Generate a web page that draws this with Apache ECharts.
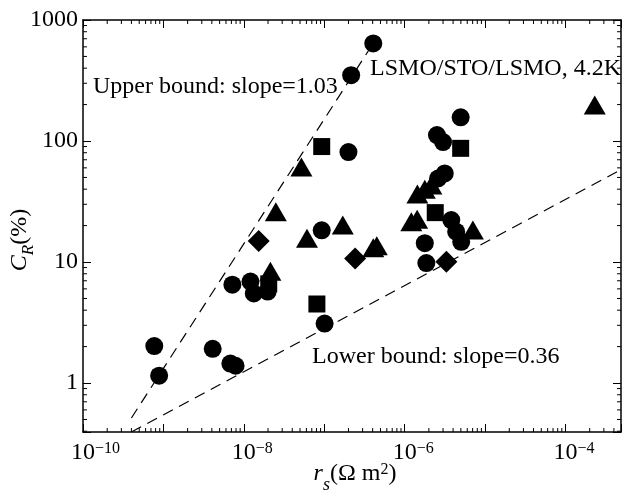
<!DOCTYPE html>
<html>
<head>
<meta charset="utf-8">
<script src="https://cdn.jsdelivr.net/npm/echarts@6/dist/echarts.min.js"></script>
<style>
  html, body { margin: 0; padding: 0; background: #fff; }
  #main { width: 624px; height: 501px; }
</style>
</head>
<body>
<div id="main"></div>
<script>
// data: [r_s (Ohm m2), C_R (%)]
var circles = [
    [7.7e-10, 2.02], [8.85e-10, 1.15], [4.1e-9, 1.92], [6.8e-9, 1.45], [7.9e-9, 1.39],
    [7.2e-9, 6.5], [1.21e-8, 6.9], [1.33e-8, 5.5], [1.98e-8, 5.7],
    [9.3e-8, 18.3], [2.0e-7, 81], [2.16e-7, 350], [4.07e-7, 640], [1.01e-7, 3.1],
    [4.97e-6, 157], [2.52e-6, 112], [3.0e-6, 98], [3.15e-6, 54], [2.6e-6, 49],
    [3.8e-6, 22.2], [4.37e-6, 17.8], [5.05e-6, 14.7], [1.78e-6, 14.3], [1.86e-6, 9.8]
];
var squares = [
    [9.3e-8, 90], [4.97e-6, 87], [2.4e-6, 25.6], [8.1e-8, 4.5], [2.04e-8, 6.6]
];
var triangles = [
    [2.31e-4, 198], [5.2e-8, 61], [2.5e-8, 26], [6.1e-8, 15.7], [1.7e-7, 20.2],
    [4.5e-7, 13.6], [4.07e-7, 13.1], [2.14e-8, 8.4], [1.44e-6, 36.5], [1.78e-6, 40],
    [2.15e-6, 43.3], [1.21e-6, 21.5], [1.43e-6, 22.6], [7.05e-6, 18.4]
];
var diamonds = [
    [1.53e-8, 14.9], [2.42e-7, 10.7], [3.3e-6, 10.05]
];
// bound lines (end points)
var upperBound = [[4e-10, 0.514], [4.3e-7, 680]];
var lowerBound = [[4e-10, 0.394], [4.9e-4, 58]];

var xMin = 1e-10, xMax = 4.9e-4;
var yMin = 0.394, yMax = 1000;
var xLabelExps = [-10, -8, -6, -4];
var yLabels = ['1', '10', '100', '1000'];

var FONT = 'Liberation Serif';

// minor tick positions (2..9 of every decade inside the range)
function minorTicks(lo, hi) {
    var out = [];
    for (var e = Math.floor(Math.log10(lo)); e <= Math.ceil(Math.log10(hi)); e++) {
        for (var k = 2; k <= 9; k++) {
            var v = k * Math.pow(10, e);
            if (v > lo && v < hi) out.push(v);
        }
    }
    return out;
}
var xMinor = minorTicks(xMin, xMax).map(function (v) { return [v, 1]; });
var yMinor = minorTicks(yMin, yMax).map(function (v) { return [1e-6, v]; });

function isPow10(v) {
    var l = Math.log10(v);
    return Math.abs(l - Math.round(l)) < 1e-6;
}

var myChart = echarts.init(document.getElementById('main'));

var axisLine = { show: true, lineStyle: { color: '#000', width: 1.5 } };
var majorTick = { show: true, inside: true, length: 8, lineStyle: { color: '#000', width: 1 } };

function xAxisDef(pos, showLabel) {
    return {
        type: 'log', logBase: 10, min: xMin, max: xMax, position: pos,
        axisLine: axisLine, axisTick: majorTick,
        splitLine: { show: false },
        axisLabel: {
            show: showLabel, margin: 9, color: '#000', fontFamily: FONT,
            formatter: function (v) {
                if (!isPow10(v)) return '';
                var e = Math.round(Math.log10(v));
                if (xLabelExps.indexOf(e) < 0) return '';
                var s = '\u2212' + Math.abs(e);
                return '{pad|' + s + '}{b|10}{sup|' + s + '}';
            },
            rich: {
                pad: { fontSize: 16, fontFamily: FONT, color: 'transparent', lineHeight: 16, verticalAlign: 'top' },
                b: { fontSize: 24, fontFamily: FONT, color: '#000', lineHeight: 24, verticalAlign: 'top' },
                sup: { fontSize: 16, fontFamily: FONT, color: '#000', lineHeight: 16, verticalAlign: 'top' }
            }
        }
    };
}
function yAxisDef(pos, showLabel) {
    return {
        type: 'log', logBase: 10, min: yMin, max: yMax, position: pos,
        axisLine: axisLine, axisTick: majorTick,
        splitLine: { show: false },
        axisLabel: {
            show: showLabel, margin: 5, color: '#000', fontSize: 24, fontFamily: FONT,
            formatter: function (v) {
                if (!isPow10(v)) return '';
                var s = String(Math.round(v));
                return yLabels.indexOf(s) >= 0 ? s : '';
            }
        }
    };
}

function minorTickRender(horizontal) {
    return function (params, api) {
        var cs = params.coordSys;
        var p = api.coord([api.value(0), api.value(1)]);
        var len = 4;
        var style = { stroke: '#000', lineWidth: 1 };
        if (horizontal) {
            return { type: 'group', children: [
                { type: 'line', shape: { x1: p[0], y1: cs.y + cs.height, x2: p[0], y2: cs.y + cs.height - len }, style: style },
                { type: 'line', shape: { x1: p[0], y1: cs.y, x2: p[0], y2: cs.y + len }, style: style }
            ] };
        }
        return { type: 'group', children: [
            { type: 'line', shape: { x1: cs.x, y1: p[1], x2: cs.x + len, y2: p[1] }, style: style },
            { type: 'line', shape: { x1: cs.x + cs.width, y1: p[1], x2: cs.x + cs.width - len, y2: p[1] }, style: style }
        ] };
    };
}

function scatter(data, symbol, size) {
    return {
        type: 'scatter', data: data, symbol: symbol, symbolSize: size,
        itemStyle: { color: '#000', opacity: 1 }, silent: true, z: 3
    };
}
function boundLine(data) {
    return {
        type: 'line', data: data, symbol: 'none', silent: true, z: 2,
        lineStyle: { color: '#000', width: 1.2, type: [11, 7] }
    };
}

var option = {
    animation: false,
    backgroundColor: '#fff',
    grid: { left: 83, right: 1, top: 20, bottom: 69 },
    xAxis: [xAxisDef('bottom', true), xAxisDef('top', false)],
    yAxis: [yAxisDef('left', true), yAxisDef('right', false)],
    series: [
        boundLine(upperBound),
        boundLine(lowerBound),
        scatter(circles, 'circle', 18),
        scatter(squares, 'rect', 17),
        scatter(triangles, 'triangle', [22, 19]),
        scatter(diamonds, 'diamond', 22),
        { type: 'custom', data: xMinor, renderItem: minorTickRender(true), silent: true, z: 4 },
        { type: 'custom', data: yMinor, renderItem: minorTickRender(false), silent: true, z: 4 }
    ],
    graphic: [
        { type: 'text', x: 93, y: 75, style: { text: 'Upper bound: slope=1.03', font: '24px "' + FONT + '"', fill: '#000', align: 'left', verticalAlign: 'top' } },
        { type: 'text', x: 621, y: 57, style: { text: 'LSMO/STO/LSMO, 4.2K', font: '24px "' + FONT + '"', fill: '#000', align: 'right', verticalAlign: 'top' } },
        { type: 'text', x: 312, y: 345, style: { text: 'Lower bound: slope=0.36', font: '24px "' + FONT + '"', fill: '#000', align: 'left', verticalAlign: 'top' } },
        { type: 'text', x: 355, y: 462, style: {
            text: '{i|r}{s|s}{n|(\u03A9 m}{sup|2}{n|)}', align: 'center', verticalAlign: 'top',
            rich: {
                i: { fontSize: 24, fontFamily: FONT, fontStyle: 'italic', lineHeight: 24, verticalAlign: 'top', color: '#000' },
                s: { fontSize: 18, fontFamily: FONT, fontStyle: 'italic', lineHeight: 18, padding: [14, 0, 0, 0], verticalAlign: 'top', color: '#000' },
                n: { fontSize: 24, fontFamily: FONT, lineHeight: 24, verticalAlign: 'top', color: '#000' },
                sup: { fontSize: 16, fontFamily: FONT, lineHeight: 16, verticalAlign: 'top', color: '#000' }
            }
        } },
        { type: 'text', x: 8, y: 240, rotation: Math.PI / 2, style: {
            text: '{i|C}{s|R}{n|(%)}', align: 'center', verticalAlign: 'top',
            rich: {
                i: { fontSize: 24, fontFamily: FONT, fontStyle: 'italic', lineHeight: 24, verticalAlign: 'top', color: '#000' },
                s: { fontSize: 17, fontFamily: FONT, fontStyle: 'italic', lineHeight: 17, padding: [12, 0, 0, 0], verticalAlign: 'top', color: '#000' },
                n: { fontSize: 24, fontFamily: FONT, lineHeight: 24, verticalAlign: 'top', color: '#000' }
            }
        } }
    ]
};

myChart.setOption(option);
</script>
</body>
</html>
